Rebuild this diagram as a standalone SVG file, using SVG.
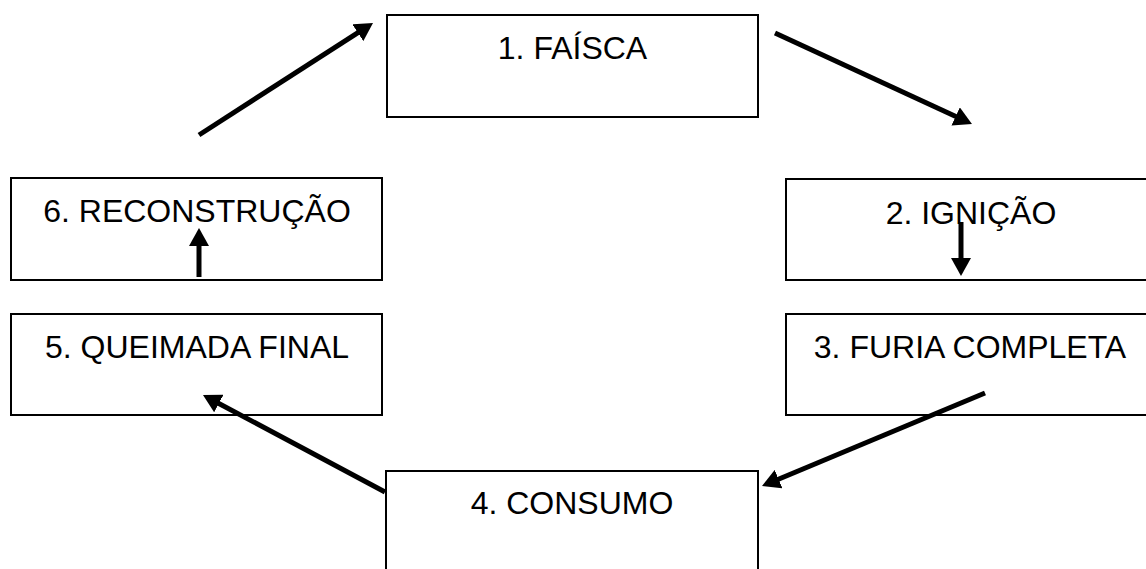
<svg xmlns="http://www.w3.org/2000/svg" width="1146" height="569" viewBox="0 0 1146 569">
<style>
.box{fill:#fff;stroke:#000;stroke-width:2}
.lbl{font-family:"Liberation Sans",Arial,sans-serif;font-size:32px;fill:#000;text-anchor:middle}
.arr{stroke:#000;stroke-width:5;fill:none;marker-end:url(#ah)}
</style>
<defs>
<marker id="ah" markerUnits="userSpaceOnUse" markerWidth="18" markerHeight="20" refX="8" refY="10" orient="auto" viewBox="0 0 18 20">
<path d="M0,0 L18,10 L0,20 z" fill="#000"/>
</marker>
</defs>
<rect width="1146" height="569" fill="#fff"/>
<g id="node1"><rect class="box" x="387" y="15" width="371" height="102"/><text class="lbl" x="572.5" y="59">1. FAÍSCA</text></g>
<g id="node2"><rect class="box" x="786" y="179" width="372" height="101"/><text class="lbl" x="971" y="224">2. IGNIÇÃO</text></g>
<g id="node3"><rect class="box" x="786" y="314" width="372" height="101"/><text class="lbl" x="970" y="358">3. FURIA COMPLETA</text></g>
<g id="node4"><rect class="box" x="386" y="471" width="372" height="110"/><text class="lbl" x="572" y="514">4. CONSUMO</text></g>
<g id="node5"><rect class="box" x="11" y="314" width="371" height="101"/><text class="lbl" x="197" y="358">5. QUEIMADA FINAL</text></g>
<g id="node6"><rect class="box" x="11" y="178" width="371" height="102"/><text class="lbl" x="197" y="222">6. RECONSTRUÇÃO</text></g>
<g id="connectors">
<line class="arr" x1="199" y1="135" x2="364.6" y2="28.4"/>
<line class="arr" x1="775" y1="33" x2="962.9" y2="119.8"/>
<line class="arr" x1="961" y1="222" x2="961" y2="266"/>
<line class="arr" x1="985" y1="393" x2="771.2" y2="482.2"/>
<line class="arr" x1="385" y1="492" x2="211.8" y2="399.7"/>
<line class="arr" x1="199" y1="277" x2="199" y2="238"/>
</g>
</svg>
